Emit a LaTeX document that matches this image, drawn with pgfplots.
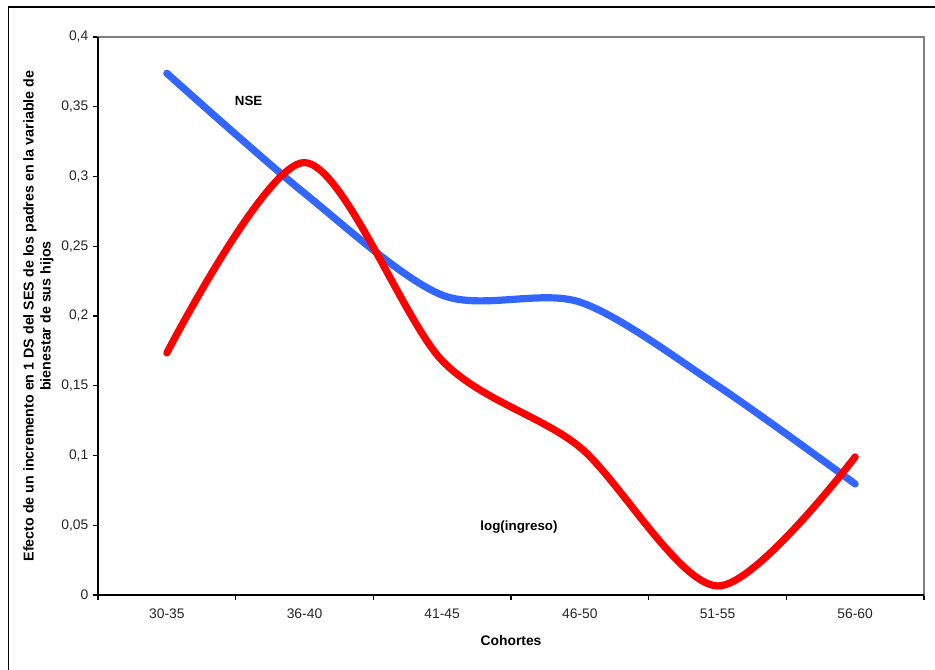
\documentclass[border=0pt]{standalone}
\usepackage{pgfplots}
\pgfplotsset{compat=1.18}
\usepackage{fontspec}
\setmainfont{Liberation Sans}
\definecolor{nseblue}{RGB}{51,102,255}
\definecolor{ingred}{RGB}{255,0,0}
\definecolor{framegray}{RGB}{128,128,128}
\begin{document}
\begin{tikzpicture}
% bounding box: 935x669 px at 0.75pt/px, origin = axis south west (px 98,595)
\useasboundingbox (-73.5pt,-55.5pt) rectangle (627.75pt,446.25pt);
\draw[black, line width=0.9pt] (-67.1pt,-80pt) -- (-67.1pt,441pt) -- (700pt,441pt);
\begin{axis}[
  at={(0,0)}, anchor=south west,
  scale only axis,
  width=619.5pt, height=418.5pt,
  xmin=0.5, xmax=6.5,
  ymin=0, ymax=0.4,
  xtick={1,2,3,4,5,6},
  xticklabels={30-35,36-40,41-45,46-50,51-55,56-60},
  minor xtick={0.5,1.5,2.5,3.5,4.5,5.5,6.5},
  ytick={0,0.05,0.1,0.15,0.2,0.25,0.3,0.35,0.4},
  yticklabels={0,{0,05},{0,1},{0,15},{0,2},{0,25},{0,3},{0,35},{0,4}},
  xtick pos=bottom, ytick pos=left,
  major x tick style={draw=none},
  tick align=outside,
  major tick length=3.75pt,
  minor tick length=3.75pt,
  tick style={black, line width=0.9pt},
  every tick/.style={black, line width=0.9pt},
  axis line style={framegray, line width=1.5pt},
  tick label style={font=\fontsize{10.4}{12}\selectfont, text=black!85},
  x tick label style={yshift=-3pt},
  y tick label style={xshift=0pt},
  /pgf/number format/assume math mode=true,
  clip=false,
]
\addplot[nseblue, line width=5.4pt, line cap=round, smooth] coordinates {
  (1,0.374) (2,0.288) (3,0.215) (4,0.210) (5,0.150) (6,0.0796)
};
\addplot[ingred, line width=5.4pt, line cap=round, smooth] coordinates {
  (1,0.1735) (2,0.310) (3,0.168) (4,0.106) (5,0.0065) (6,0.099)
};
\draw[black, line width=1.2pt] (rel axis cs:0,1) -- (rel axis cs:0,0) -- (rel axis cs:1,0);
\node[font=\fontsize{10}{12}\selectfont\bfseries] at (axis cs:1.594,0.354) {NSE};
\node[font=\fontsize{10}{12}\selectfont\bfseries] at (axis cs:3.558,0.0487) {log(ingreso)};
\end{axis}
\node[font=\fontsize{10.4}{12}\selectfont\bfseries] at (309.75pt,-34.5pt) {Cohortes};
\node[rotate=90, align=center, font=\fontsize{10.7}{12.75}\selectfont\bfseries] at (-44.6pt,209.25pt)
  {Efecto de un incremento en 1 DS del SES de los padres en la variable de\\bienestar de sus hijos};
\end{tikzpicture}
\end{document}
